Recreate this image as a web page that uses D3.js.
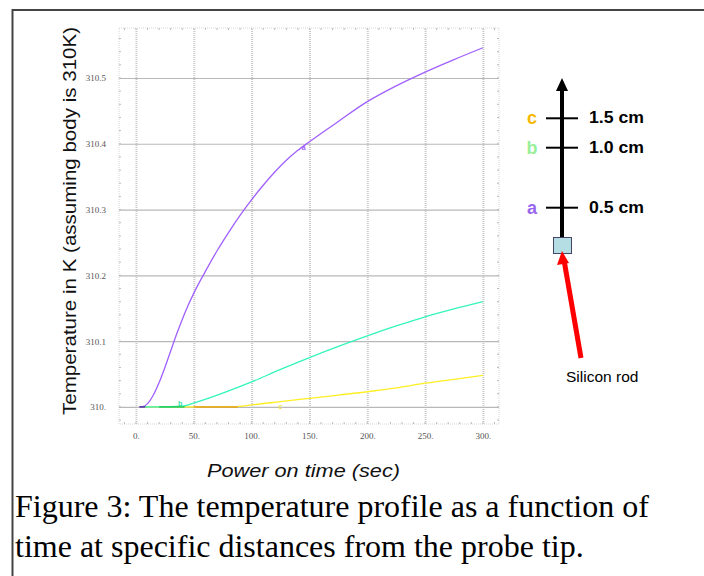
<!DOCTYPE html>
<html><head><meta charset="utf-8">
<script src="https://cdn.jsdelivr.net/npm/d3@7"></script>
<style>body{margin:0;background:#fff}svg{display:block}</style>
</head><body>
<script>
// ---- data ----
const xTicks = [0, 50, 100, 150, 200, 250, 300];
const xTickLabels = ["0.", "50.", "100.", "150.", "200.", "250.", "300."];
const yTicks = [310, 310.1, 310.2, 310.3, 310.4, 310.5];
const yTickLabels = ["310.", "310.1", "310.2", "310.3", "310.4", "310.5"];
const timeA = [3, 6, 10, 15, 20, 25, 30, 35, 40, 45, 50, 60, 70, 80, 90, 100, 110, 120, 130, 140, 150, 160, 175, 200, 225, 250, 275, 300];
const tempA = [310, 310.0005, 310.005, 310.018, 310.037, 310.06, 310.085, 310.11, 310.133, 310.154, 310.173, 310.206, 310.237, 310.265, 310.291, 310.315, 310.337, 310.357, 310.375, 310.39, 310.403, 310.4155, 310.434, 310.464, 310.488, 310.509, 310.528, 310.546];
const timeB = [3, 20, 40, 51, 75, 100, 125, 150, 175, 200, 225, 250, 275, 300];
const tempB = [310, 310, 310.001, 310.0065, 310.021, 310.038, 310.057, 310.075, 310.092, 310.108, 310.123, 310.137, 310.149, 310.16];
const timeC = [3, 50, 85, 100, 125, 150, 175, 200, 225, 250, 275, 300];
const tempC = [310, 310, 310.0005, 310.003, 310.008, 310.013, 310.018, 310.023, 310.029, 310.036, 310.042, 310.048];
const seriesNames = ["a", "b", "c"];
const distLabels = ["0.5 cm", "1.0 cm", "1.5 cm"];
const distValues = [0.5, 1.0, 1.5];
const yTitle = "Temperature in K (assuming body is 310K)";
const xTitle = "Power on time (sec)";
const caption = ["Figure 3: The temperature profile as a function of", "time at specific distances from the probe tip."];

const W = 704, H = 576;
const svg = d3.select("body").append("svg").attr("width", W).attr("height", H);

// outer frame
svg.append("path").attr("d", `M12.5,${H} L12.5,10 L${W},10`).attr("fill","none").attr("stroke","#444").attr("stroke-width",2);

// scales
const px0 = 119, px1 = 499, py0 = 28, py1 = 424;
const x = d3.scaleLinear().domain([-14.7, 313.9]).range([px0, px1]);
const y = d3.scaleLinear().domain([309.974, 310.576]).range([py1, py0]);

const g = svg.append("g");
g.append("rect").attr("x",px0).attr("y",py0).attr("width",px1-px0).attr("height",py1-py0)
  .attr("fill","none").attr("stroke","#d4d8d4").attr("stroke-width",1).attr("stroke-dasharray","1,1");

// minor ticks on frame
d3.range(-10, 311, 10).forEach(v => {
  g.append("line").attr("x1",x(v)).attr("x2",x(v)).attr("y1",py1).attr("y2",py1-2).attr("stroke","#bbb");
  g.append("line").attr("x1",x(v)).attr("x2",x(v)).attr("y1",py0).attr("y2",py0+2).attr("stroke","#bbb");
});
d3.range(309.98, 310.571, 0.02).forEach(v => {
  g.append("line").attr("x1",px0).attr("x2",px0+2).attr("y1",y(v)).attr("y2",y(v)).attr("stroke","#bbb");
  g.append("line").attr("x1",px1).attr("x2",px1-2).attr("y1",y(v)).attr("y2",y(v)).attr("stroke","#bbb");
});

// grid + axes
const xAxis = d3.axisBottom(x).tickValues(xTicks).tickSize(-(py1-py0)).tickFormat((d,i)=>xTickLabels[i]).tickPadding(9);
const gx = g.append("g").attr("transform",`translate(0,${py1})`).call(xAxis);
gx.select(".domain").remove();
gx.selectAll(".tick line").attr("stroke","#c8c8c8").attr("stroke-width",2).attr("stroke-dasharray","1,1");
gx.selectAll(".tick text").attr("font-family","Liberation Serif").attr("font-size",9).attr("fill","#555");

const yAxis = d3.axisLeft(y).tickValues(yTicks).tickSize(-(px1-px0)).tickFormat((d,i)=>yTickLabels[i]).tickPadding(13);
const gy = g.append("g").attr("transform",`translate(${px0},0)`).call(yAxis);
gy.select(".domain").remove();
gy.selectAll(".tick line").attr("stroke","#b8b8b8").attr("stroke-width",1.2);
gy.selectAll(".tick text").attr("font-family","Liberation Serif").attr("font-size",9).attr("fill","#555");

// curves
const line = d3.line().x(d=>x(d[0])).y(d=>y(d[1])).curve(d3.curveMonotoneX);
const zip = (t,v) => t.map((d,i)=>[d,v[i]]);
g.append("path").datum(zip(timeC,tempC)).attr("d",line).attr("fill","none").attr("stroke","#ffee22").attr("stroke-width",1.3);
g.append("path").datum(zip(timeB,tempB)).attr("d",line).attr("fill","none").attr("stroke","#33f5bb").attr("stroke-width",1.3);
g.append("path").datum(zip(timeA,tempA)).attr("d",line).attr("fill","none").attr("stroke","#a060ff").attr("stroke-width",1.3);
g.append("path").datum([[20,310],[42,310]]).attr("d",line).attr("stroke","#22cc55").attr("stroke-width",1.5);
g.append("path").datum([[50,310],[88,310]]).attr("d",line).attr("stroke","#e0a020").attr("stroke-width",1.5);
g.append("path").datum([[3,310],[8,310]]).attr("d",line).attr("stroke","#6030a0").attr("stroke-width",1.5);

// curve labels
const lbl = (t,v,txt,col,dx,dy)=>g.append("text").attr("x",x(t)+dx).attr("y",y(v)+dy).text(txt)
  .attr("font-family","Liberation Sans").attr("font-size",7).attr("font-weight","bold").attr("fill",col);
lbl(145, 310.4, seriesNames[0], "#a060ff", -2, 6);
lbl(38, 310, seriesNames[1], "#33e0aa", -2, -1);
lbl(125, 310, seriesNames[2], "#f0e040", -2, 2);

// axis titles
svg.append("text").attr("transform","translate(76,221) rotate(-90)").attr("text-anchor","middle")
  .attr("font-family","Liberation Sans").attr("font-size",19).attr("fill","#111")
  .attr("textLength",388).attr("lengthAdjust","spacingAndGlyphs").text(yTitle);
svg.append("text").attr("x",303.5).attr("y",477).attr("text-anchor","middle").attr("font-style","italic")
  .attr("font-family","Liberation Sans").attr("font-size",18).attr("fill","#111")
  .attr("textLength",193).attr("lengthAdjust","spacingAndGlyphs").text(xTitle);

// caption
caption.forEach((c,i)=>svg.append("text").attr("x",15).attr("y",517+i*40)
  .attr("font-family","Liberation Serif").attr("font-size",32).attr("fill","#000").text(c));

// diagram
const d = svg.append("g");
const tickY = [207.7, 147.7, 118.3];
d.append("line").attr("x1",562).attr("x2",562).attr("y1",244).attr("y2",88).attr("stroke","#000").attr("stroke-width",4);
d.append("path").attr("d","M562,78 L556,91 L568,91 Z").attr("fill","#000");
const letterCols = ["#9966ee","#99ee99","#f5b800"];
distValues.forEach((v,i)=>{
  d.append("line").attr("x1",546).attr("x2",578).attr("y1",tickY[i]).attr("y2",tickY[i]).attr("stroke","#000").attr("stroke-width",2);
  d.append("text").attr("x",589).attr("y",tickY[i]+5).text(distLabels[i])
    .attr("font-family","Liberation Sans").attr("font-size",16.5).attr("font-weight","bold").attr("fill","#000")
    .attr("textLength",55).attr("lengthAdjust","spacingAndGlyphs");
  d.append("text").attr("x",532).attr("y",tickY[i]+6).attr("text-anchor","middle").text(seriesNames[i])
    .attr("font-family","Liberation Sans").attr("font-size",18).attr("font-weight","bold").attr("fill",letterCols[i]);
});
d.append("rect").attr("x",553.5).attr("y",237.5).attr("width",18).attr("height",16).attr("fill","#b4dde4").attr("stroke","#446").attr("stroke-width",1);
d.append("line").attr("x1",581).attr("y1",358).attr("x2",564).attr("y2",260).attr("stroke","#ff0000").attr("stroke-width",5);
d.append("path").attr("d","M562,251 L557,265 L569,263 Z").attr("fill","#ff0000");
d.append("text").attr("x",566).attr("y",382).text("Silicon rod")
  .attr("font-family","Liberation Sans").attr("font-size",15.5).attr("fill","#000");
</script>
</body></html>
